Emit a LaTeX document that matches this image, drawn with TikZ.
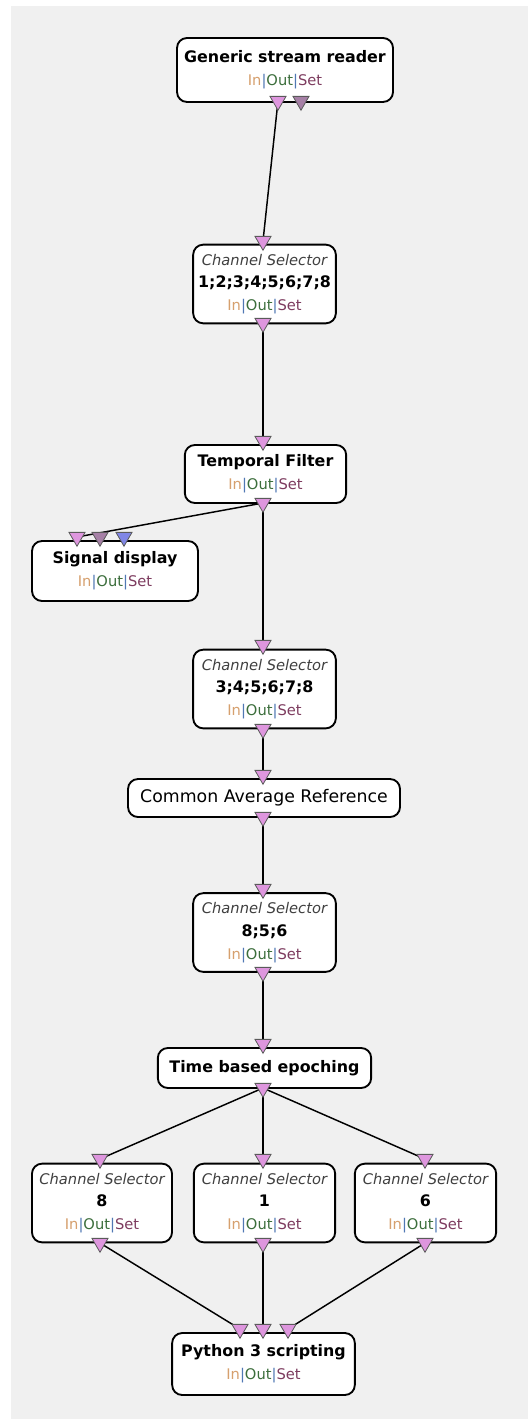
\documentclass[tikz,border=0pt]{standalone}
\usepackage{fontspec}
\setmainfont{DejaVu Sans}
\usepackage{xcolor}
\usepackage{tikz}
\usetikzlibrary{positioning,shapes.geometric,backgrounds}

\definecolor{canvas}{RGB}{240,240,240}
\definecolor{plugpink}{RGB}{222,150,222}
\definecolor{plugmauve}{RGB}{166,128,166}
\definecolor{plugblue}{RGB}{128,134,230}
\definecolor{plugedge}{RGB}{90,90,90}
\definecolor{inclr}{RGB}{214,160,110}
\definecolor{barclr}{RGB}{80,120,180}
\definecolor{outclr}{RGB}{60,110,60}
\definecolor{setclr}{RGB}{125,60,95}

\newcommand{\inoutset}{{\color{inclr}In}{\color{barclr}|}{\color{outclr}Out}{\color{barclr}|}{\color{setclr}Set}}
\newcommand{\boxname}[1]{{\bfseries\fontsize{11.9}{17}\selectfont #1}}
\newcommand{\selname}{{\itshape\color{black!75}Channel Selector}}

\begin{document}
\begin{tikzpicture}[
    x=0.75pt, y=-0.75pt,
    box/.style={rectangle, rounded corners=7.5pt, draw=black, line width=1.4pt, fill=white, align=center, inner sep=0pt, font=\fontsize{11}{17}\selectfont},
    selbox/.style={box, minimum width=107pt, minimum height=59pt},
    plug/.style={regular polygon, regular polygon sides=3, shape border rotate=180, minimum size=13.9pt, inner sep=0pt, draw=plugedge, line width=0.6pt, fill=plugpink},
    link/.style={line width=1.1pt}
]
\useasboundingbox (0,0) rectangle (528,1419);
\begin{scope}[on background layer]
\fill[canvas] (11,6) rectangle (528,1419);
\end{scope}

% Reader and first selector
\node[box, minimum width=162pt, minimum height=48pt] (reader) at (285,70) {\boxname{Generic stream reader}\\\inoutset};
\node[selbox] (sel1) at (264.5,284) {\selname\\\boxname{1;2;3;4;5;6;7;8}\\\inoutset};

% Filtering and display
\node[box, minimum width=121pt, minimum height=43.5pt] (filter) at (265.5,474) {\boxname{Temporal Filter}\\\inoutset};
\node[box, minimum width=124.5pt, minimum height=45pt] (display) at (115,571) {\boxname{Signal display}\\\inoutset};
\node[selbox] (sel2) at (264.5,689) {\selname\\\boxname{3;4;5;6;7;8}\\\inoutset};
\node[box, minimum width=204pt, minimum height=28.5pt, font=\fontsize{13}{17}\selectfont] (car) at (264,798) {Common Average Reference};
\node[selbox] (sel3) at (264.5,932.5) {\selname\\\boxname{8;5;6}\\\inoutset};

% Epoching and split
\node[box, minimum width=160pt, minimum height=30pt] (epoch) at (264.5,1068) {\boxname{Time based epoching}};
\node[selbox, minimum width=105pt] (sel8) at (102,1203) {\selname\\\boxname{8}\\\inoutset};
\node[selbox, minimum width=106pt] (selone) at (264.5,1203) {\selname\\\boxname{1}\\\inoutset};
\node[selbox, minimum width=106pt] (sel6) at (425.5,1203) {\selname\\\boxname{6}\\\inoutset};
\node[box, minimum width=137pt, minimum height=46.5pt] (python) at (263.5,1364) {\boxname{Python 3 scripting}\\\inoutset};

% Plugs
\node[plug] (reader-o1) at (278,101) {};
\node[plug, fill=plugmauve] (reader-o2) at (301,101) {};
\node[plug] (sel1-i) at (263,241) {};
\node[plug] (sel1-o) at (263,323) {};
\node[plug] (filter-i) at (263,441) {};
\node[plug] (filter-o) at (263,503) {};
\node[plug] (display-i1) at (77,537) {};
\node[plug, fill=plugmauve] (display-i2) at (100,537) {};
\node[plug, fill=plugblue] (display-i3) at (124,537) {};
\node[plug] (sel2-i) at (263,645) {};
\node[plug] (sel2-o) at (263,729) {};
\node[plug] (car-i) at (263,775) {};
\node[plug] (car-o) at (263,817) {};
\node[plug] (sel3-i) at (263,889) {};
\node[plug] (sel3-o) at (263,972) {};
\node[plug] (epoch-i) at (263,1044) {};
\node[plug] (epoch-o) at (263,1088) {};
\node[plug] (sel8-i) at (100,1159) {};
\node[plug] (sel8-o) at (100,1243) {};
\node[plug] (selone-i) at (263,1159) {};
\node[plug] (selone-o) at (263,1243) {};
\node[plug] (sel6-i) at (425,1159) {};
\node[plug] (sel6-o) at (425,1243) {};
\node[plug] (python-i1) at (240,1329) {};
\node[plug] (python-i2) at (263,1329) {};
\node[plug] (python-i3) at (288,1329) {};

% Links
\begin{scope}[on background layer]
\draw[link] (reader-o1.center) -- (sel1-i.center);
\draw[link] (sel1-o.center) -- (filter-i.center);
\draw[link] (filter-o.center) -- (display-i1.center);
\draw[link] (filter-o.center) -- (sel2-i.center);
\draw[link] (sel2-o.center) -- (car-i.center);
\draw[link] (car-o.center) -- (sel3-i.center);
\draw[link] (sel3-o.center) -- (epoch-i.center);
\draw[link] (epoch-o.center) -- (sel8-i.center);
\draw[link] (epoch-o.center) -- (selone-i.center);
\draw[link] (epoch-o.center) -- (sel6-i.center);
\draw[link] (sel8-o.center) -- (python-i1.center);
\draw[link] (selone-o.center) -- (python-i2.center);
\draw[link] (sel6-o.center) -- (python-i3.center);
\end{scope}

\end{tikzpicture}
\end{document}
